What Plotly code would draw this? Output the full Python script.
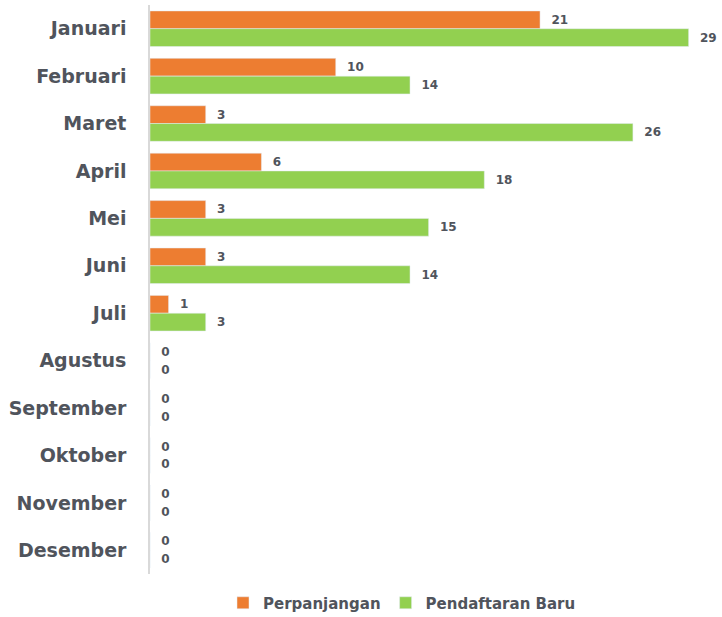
import plotly.graph_objects as go

months = ["Januari", "Februari", "Maret", "April", "Mei", "Juni", "Juli",
          "Agustus", "September", "Oktober", "November", "Desember"]
perpanjangan = [21, 10, 3, 6, 3, 3, 1, 0, 0, 0, 0, 0]
pendaftaran_baru = [29, 14, 26, 18, 15, 14, 3, 0, 0, 0, 0, 0]

text_color = "#50545c"
font_family = "'DejaVu Sans', sans-serif"

fig = go.Figure()
fig.add_trace(go.Bar(
    y=months, x=perpanjangan, orientation="h", name="Perpanjangan",
    marker=dict(color="#ED7D31"),
    texttemplate="\u00a0\u00a0%{x}", textposition="outside", cliponaxis=False,
    textfont=dict(size=12, color=text_color, family=font_family, weight="bold"),
    hoverinfo="skip",
))
fig.add_trace(go.Bar(
    y=months, x=pendaftaran_baru, orientation="h", name="Pendaftaran Baru",
    marker=dict(color="#92D050"),
    texttemplate="\u00a0\u00a0%{x}", textposition="outside", cliponaxis=False,
    textfont=dict(size=12, color=text_color, family=font_family, weight="bold"),
    hoverinfo="skip",
))

fig.update_layout(
    width=722, height=617,
    margin=dict(l=150, r=12, t=5, b=43, autoexpand=False),
    paper_bgcolor="white", plot_bgcolor="white",
    barmode="group", bargap=0.25, bargroupgap=0.0,
    font=dict(family=font_family, color=text_color),
    legend=dict(orientation="h", x=0.45, xanchor="center", y=-0.022, yanchor="top",
                font=dict(size=15, color=text_color, family=font_family, weight="bold"),
                traceorder="normal"),
    showlegend=True,
)
fig.update_xaxes(range=[0, 30.15], showgrid=False, showticklabels=False,
                 zeroline=False, showline=False, automargin=False)
fig.update_yaxes(autorange="reversed", showgrid=False, showline=True,
                 linecolor="#d9d9d9", linewidth=1.5, ticks="", automargin=False,
                 ticklabelstandoff=18,
                 tickfont=dict(size=19, color=text_color, family=font_family, weight="bold"))

fig.write_html("out.html", config={"displayModeBar": False},
               post_script="document.body.style.margin='0';")
